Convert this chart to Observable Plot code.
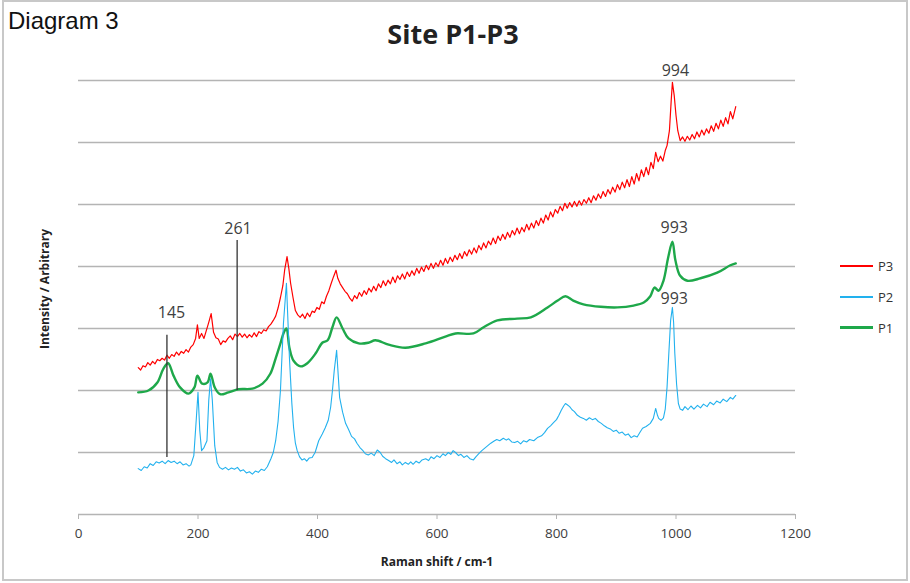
<!DOCTYPE html>
<html><head><meta charset="utf-8">
<script src="https://cdn.jsdelivr.net/npm/d3@7"></script>
<script src="https://cdn.jsdelivr.net/npm/@observablehq/plot@0.6"></script>
<style>
html,body{margin:0;padding:0;background:#fff;}
#wrap{position:relative;width:910px;height:583px;overflow:hidden;font-family:"Open Sans",sans-serif;background:#fff;}
#chart{position:absolute;left:0;top:0;}
.t{position:absolute;white-space:nowrap;line-height:1;}
#diag{left:8px;top:21px;transform:translateY(-50%);font-family:"Liberation Sans",Arial,sans-serif;font-size:24px;color:#111;}
#title{left:453px;top:33px;transform:translate(-50%,-50%);font-size:27px;font-weight:700;color:#222;}
#ylab{left:45px;top:289px;transform:translate(-50%,-50%) rotate(-90deg);font-size:12px;font-weight:700;color:#222;}
#xlab{left:437px;top:562px;transform:translate(-50%,-50%);font-size:12px;font-weight:700;color:#222;}
#legend{position:absolute;left:840px;top:250px;}
.li{display:flex;align-items:center;height:31px;font-size:13px;color:#333;}
.li span.sw{display:inline-block;width:33px;margin-right:5px;}
#frame{position:absolute;left:2px;top:0;width:902px;height:577px;border:2px solid #c8c8c8;pointer-events:none;}
</style>
</head><body>
<div id="wrap">
  <div id="chart"></div>
  <div class="t" id="diag">Diagram 3</div>
  <div class="t" id="title">Site P1-P3</div>
  <div class="t" id="ylab">Intensity / Arbitrary</div>
  <div class="t" id="xlab">Raman shift / cm-1</div>
  <div id="legend"></div>
  <div id="frame"></div>
</div>
<script>
// ---- data (Raman shift in cm-1, intensity in arbitrary units; gridlines every 100) ----
const xTicks = [0, 200, 400, 600, 800, 1000, 1200];
const yGrid = [0, 100, 200, 300, 400, 500, 600, 700];

const p3 = [[100,237],[104,233],[108,240],[112,238],[116,245],[120,241],[124,247],[128,243],[132,250],[136,248],[140,252],[144,249],[148,257],[152,252],[156,258],[160,255],[164,262],[168,257],[172,263],[176,260],[180,266],[184,262],[188,270],[192,274],[196,284],[199,306],[202,284],[206,292],[210,284],[214,297],[218,310],[222,324],[226,294],[230,285],[234,283],[238,274],[242,280],[246,278],[250,284],[254,288],[258,282],[262,291],[266,287],[270,292],[274,286],[278,291],[282,285],[286,290],[290,286],[294,293],[298,287],[302,295],[306,292],[310,298],[314,296],[318,303],[322,307],[326,313],[330,320],[334,333],[338,350],[342,369],[345,394],[349,416],[352,397],[355,373],[359,350],[363,329],[367,322],[371,318],[375,323],[379,316],[383,325],[387,319],[391,328],[395,326],[399,334],[403,331],[407,343],[411,340],[415,352],[419,361],[423,373],[427,384],[431,394],[434,381],[438,372],[442,366],[446,360],[450,356],[454,349],[458,344],[462,353],[466,348],[470,358],[474,352],[478,361],[482,355],[486,365],[490,359],[494,368],[498,361],[502,372],[506,366],[510,377],[514,369],[518,378],[522,372],[526,383],[530,374],[534,385],[538,379],[542,388],[546,380],[550,391],[554,384],[558,393],[562,386],[566,397],[570,389],[574,399],[578,392],[582,402],[586,395],[590,405],[594,397],[598,406],[602,400],[606,410],[610,402],[614,413],[618,405],[622,415],[626,408],[630,418],[634,411],[638,421],[642,413],[646,424],[650,417],[654,427],[658,420],[662,430],[666,422],[670,434],[674,427],[678,438],[682,430],[686,441],[690,435],[694,446],[698,437],[702,449],[706,442],[710,452],[714,444],[718,455],[722,447],[726,458],[730,451],[734,462],[738,453],[742,463],[746,456],[750,468],[754,459],[758,470],[762,462],[766,474],[770,466],[774,478],[778,470],[782,483],[786,475],[790,488],[794,480],[798,492],[802,486],[806,497],[810,490],[814,502],[818,494],[822,503],[826,496],[830,505],[834,497],[838,506],[842,499],[846,508],[850,502],[854,511],[858,503],[862,514],[866,507],[870,517],[874,510],[878,521],[882,513],[886,524],[890,517],[894,528],[898,520],[902,532],[906,524],[910,536],[914,527],[918,540],[922,529],[926,545],[930,533],[934,550],[938,538],[942,556],[946,545],[950,560],[954,548],[958,568],[962,558],[966,584],[970,569],[974,578],[978,570],[982,587],[985,595],[989,619],[992,668],[994,697],[997,676],[1000,644],[1003,619],[1007,603],[1011,609],[1015,602],[1019,610],[1023,604],[1027,613],[1031,606],[1035,617],[1039,609],[1043,620],[1047,612],[1051,622],[1055,615],[1059,627],[1063,618],[1067,631],[1071,622],[1075,636],[1079,626],[1083,640],[1087,630],[1091,650],[1095,638],[1100,658]];

const p2 = [[100,74],[105,71],[110,77],[115,75],[120,82],[125,79],[130,85],[135,83],[140,86],[145,82],[150,87],[155,84],[160,86],[165,82],[170,85],[175,80],[180,82],[185,78],[188,80],[193,95],[197,152],[200,197],[203,135],[206,103],[210,108],[215,119],[218,184],[221,219],[224,184],[228,111],[232,84],[236,76],[241,73],[246,76],[251,72],[256,75],[261,73],[266,76],[271,70],[276,72],[281,67],[286,69],[291,65],[296,70],[301,68],[306,73],[311,71],[316,77],[322,90],[326,100],[330,119],[334,150],[338,200],[343,308],[348,373],[353,253],[357,180],[360,140],[363,115],[366,103],[370,93],[374,88],[378,90],[382,86],[386,91],[391,92],[396,100],[402,119],[408,130],[413,140],[418,152],[422,173],[425,200],[428,232],[432,265],[435,220],[437,189],[442,165],[447,147],[452,137],[457,126],[462,122],[466,115],[471,108],[476,103],[480,98],[485,96],[490,99],[495,95],[500,104],[505,100],[509,94],[514,90],[519,87],[524,84],[528,88],[533,82],[538,85],[542,80],[547,84],[552,81],[556,85],[560,81],[565,86],[570,83],[575,88],[581,90],[586,87],[590,93],[595,90],[600,95],[605,92],[610,98],[614,95],[619,100],[623,97],[627,103],[631,100],[636,95],[640,97],[645,92],[650,95],[655,90],[661,88],[665,93],[670,98],[675,103],[680,107],[685,111],[690,115],[695,118],[700,121],[705,119],[711,123],[716,120],[720,122],[725,117],[730,116],[735,118],[740,114],[745,119],[750,117],[755,121],[762,119],[768,124],[775,127],[780,132],[785,139],[790,143],[795,148],[800,153],[804,160],[808,168],[812,175],[815,179],[818,177],[822,174],[826,169],[830,166],[835,160],[840,157],[845,155],[850,152],[855,156],[860,153],[865,155],[870,150],[875,147],[880,143],[885,140],[890,138],[895,134],[900,136],[905,131],[910,133],[915,128],[920,130],[925,124],[930,127],[935,125],[940,133],[944,139],[950,142],[957,147],[962,155],[966,171],[969,160],[971,155],[975,152],[979,156],[982,170],[985,205],[988,260],[991,313],[994,334],[996,310],[998,260],[1001,210],[1004,179],[1007,170],[1011,168],[1015,174],[1020,169],[1025,175],[1030,170],[1036,176],[1041,172],[1046,178],[1052,174],[1057,181],[1063,177],[1068,183],[1074,180],[1079,186],[1085,182],[1091,189],[1095,186],[1100,192]];

const p1 = [[100,197],[117,200],[132,213],[142,235],[150,244],[159,224],[170,205],[184,195],[194,205],[199,224],[207,211],[216,213],[221,227],[228,205],[237,194],[251,197],[268,202],[291,203],[308,211],[321,227],[330,252],[338,276],[343,292],[348,300],[353,269],[360,248],[372,239],[383,244],[397,260],[408,277],[417,281],[425,302],[432,318],[442,300],[452,284],[469,276],[485,277],[497,281],[519,274],[547,269],[581,276],[614,287],[631,292],[661,292],[678,302],[701,313],[734,316],[757,318],[785,334],[802,345],[815,352],[828,345],[845,339],[874,335],[902,334],[929,337],[946,342],[957,352],[964,366],[971,361],[979,377],[987,415],[994,440],[999,410],[1007,385],[1019,377],[1041,381],[1069,390],[1091,402],[1100,405]];

const seriesNames = ["P3", "P2", "P1"];

// annotation lines (x in cm-1, from/to intensity)
const markerX = [148, 265.5];
const markerFrom = [92, 200];
const markerTo = [289, 442];
// peak labels
const labelText = ["145", "261", "994", "993", "993"];
const labelX = [155.6, 267, 999, 997, 997];
const labelY = [326, 461, 716, 463, 348];

// ---- build ----
const toRows = arr => arr.map(([x, y]) => ({x, y}));
const colors = {P3: "#ff0000", P2: "#22b1ee", P1: "#1ea84a"};
const widths = {P3: 1.2, P2: 1.1, P1: 2.4};
const markers = markerX.map((x, i) => ({x, y1: markerFrom[i], y2: markerTo[i]}));
const labels = labelText.map((t, i) => ({t, x: labelX[i], y: labelY[i]}));

const chart = Plot.plot({
  width: 910,
  height: 583,
  marginLeft: 78,
  marginRight: 115,
  marginTop: 80,
  marginBottom: 69,
  style: {fontFamily: "'Open Sans', sans-serif", fontSize: "13.5px", color: "#404040", background: "transparent"},
  x: {domain: [0, 1200], label: null},
  y: {domain: [0, 700], axis: null},
  marks: [
    Plot.ruleY(yGrid, {stroke: "#b4b4b4", strokeWidth: 1.5}),
    Plot.axisX({ticks: xTicks, tickSize: 5, tickPadding: 9, stroke: "#b4b4b4", tickFormat: d => String(d), label: null}),
    Plot.line(toRows(p1), {x: "x", y: "y", stroke: colors.P1, strokeWidth: widths.P1, curve: "catmull-rom"}),
    Plot.line(toRows(p2), {x: "x", y: "y", stroke: colors.P2, strokeWidth: widths.P2}),
    Plot.line(toRows(p3), {x: "x", y: "y", stroke: colors.P3, strokeWidth: widths.P3}),
    Plot.ruleX(markers, {x: "x", y1: "y1", y2: "y2", stroke: "#333", strokeWidth: 1.3}),
    Plot.text(labels, {x: "x", y: "y", text: "t", fill: "#404040", fontSize: 16})
  ]
});
document.getElementById("chart").appendChild(chart);

const legend = document.getElementById("legend");
for (const name of seriesNames) {
  const row = document.createElement("div");
  row.className = "li";
  const sw = document.createElement("span");
  sw.className = "sw";
  sw.style.borderTop = `${name === "P1" ? 3 : 2}px solid ${colors[name]}`;
  row.appendChild(sw);
  const lab = document.createElement("span");
  lab.textContent = name;
  row.appendChild(lab);
  legend.appendChild(row);
}
</script>
</body></html>
